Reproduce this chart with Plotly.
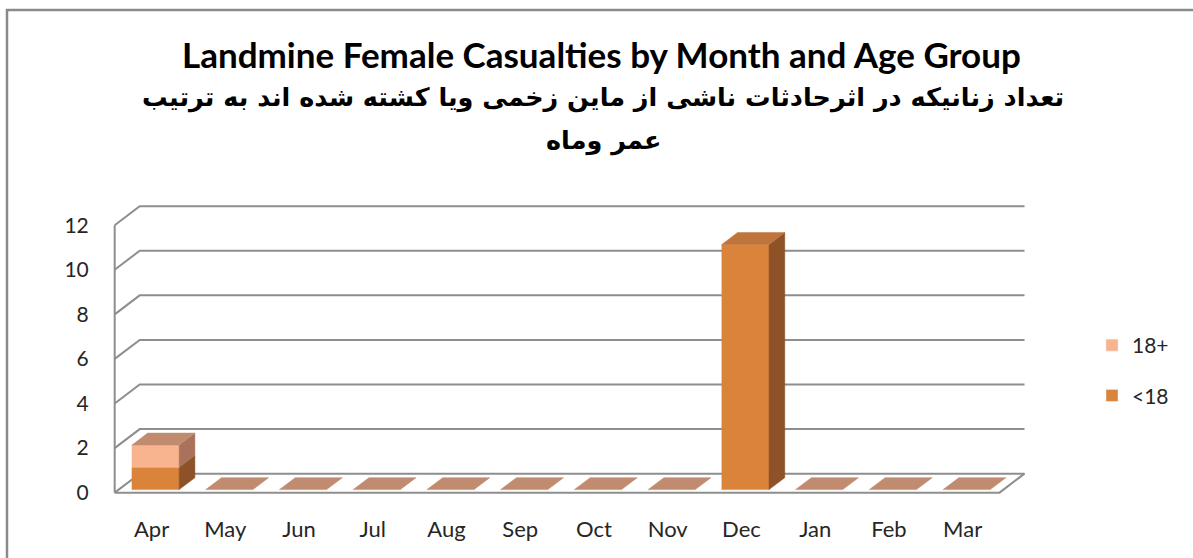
import plotly.graph_objects as go

# ---------------- data ----------------
months = ["Apr", "May", "Jun", "Jul", "Aug", "Sep", "Oct", "Nov", "Dec", "Jan", "Feb", "Mar"]
under18 = [1, 0, 0, 0, 0, 0, 0, 0, 11, 0, 0, 0]
adult18 = [1, 0, 0, 0, 0, 0, 0, 0, 0, 0, 0, 0]
series_names = ["<18", "18+"]
y_ticks = [0, 2, 4, 6, 8, 10, 12]

title_en = "Landmine Female Casualties by Month and Age Group"
title_fa1 = "تعداد زنانیکه در اثرحادثات ناشی از ماین زخمی ویا کشته شده اند به ترتیب"
title_fa2 = "عمر وماه"

# ---------------- style ----------------
W, H = 1193, 558
ML, MR, MT, MB = 111, 164, 204, 62
XR = [-0.55, 11.9]
YR = [-0.15, 12.95]
PW = W - ML - MR
PH = H - MT - MB
PXX = PW / (XR[1] - XR[0])
PXY = PH / (YR[1] - YR[0])
DX = 25 / PXX          # full depth shift in x-units
DY = 19 / PXY          # full depth shift in y-units
HALF_W = 0.32
D1, D2 = 0.16, 0.79

colors = {
    "<18": {"front": "#DA843B", "side": "#8D5227", "top": "#BF743C"},
    "18+": {"front": "#F8B48F", "side": "#A9735B", "top": "#C18B70"},
}
grid_color = "#8E8E8E"
text_color = "#262626"
latin_font = "Lato, Open Sans, sans-serif"


def P(x, y, d):
    return x + DX * d, y + DY * d


def px_x(p):
    return (p - ML) / PW


def px_y(p):
    return (MT + PH - p) / PH


fig = go.Figure()

# ---------------- walls / gridlines ----------------
gx, gy = [], []
x_left, x_right = -0.5, len(months) - 0.5
for t in y_ticks:
    a = P(x_left, t, 0); b = P(x_left, t, 1); c = P(x_right, t, 1)
    gx += [a[0], b[0], c[0], None]
    gy += [a[1], b[1], c[1], None]
a = P(x_left, 0, 0); b = P(x_left, y_ticks[-1], 0)
gx += [a[0], b[0], None]; gy += [a[1], b[1], None]
a = P(x_left, 0, 0); b = P(x_right, 0, 0); c = P(x_right, 0, 1)
gx += [a[0], b[0], c[0], None]; gy += [a[1], b[1], c[1], None]
fig.add_trace(go.Scatter(x=gx, y=gy, mode="lines", line=dict(color=grid_color, width=2),
                         hoverinfo="skip", showlegend=False))

# ---------------- 3D bars ----------------
faces = {(s, f): ([], []) for s in series_names for f in ("front", "side", "top")}


def add_poly(key, pts):
    xs, ys = faces[key]
    for p in pts:
        xs.append(p[0]); ys.append(p[1])
    xs.append(pts[0][0]); ys.append(pts[0][1])
    xs.append(None); ys.append(None)


values = {"<18": under18, "18+": adult18}
for i in range(len(months)):
    base = 0
    top_series = "18+"
    for s in series_names:
        v = values[s][i]
        if v > 0:
            b, t = base, base + v
            xl, xr = i - HALF_W, i + HALF_W
            add_poly((s, "front"), [P(xl, b, D1), P(xr, b, D1), P(xr, t, D1), P(xl, t, D1)])
            add_poly((s, "side"), [P(xr, b, D1), P(xr, b, D2), P(xr, t, D2), P(xr, t, D1)])
            top_series = s
            base = t
    total = base
    if total == 0:
        top_series = "18+"
    xl, xr = i - HALF_W, i + HALF_W
    add_poly((top_series, "top"), [P(xl, total, D1), P(xr, total, D1), P(xr, total, D2), P(xl, total, D2)])

for s in series_names:
    for f in ("front", "side", "top"):
        xs, ys = faces[(s, f)]
        if not xs:
            continue
        c = colors[s][f]
        fig.add_trace(go.Scatter(x=xs, y=ys, mode="lines", fill="toself", fillcolor=c,
                                 line=dict(color=c, width=0.5), hoverinfo="skip", showlegend=False))

# ---------------- legend entries ----------------
for gi, s in enumerate(["18+", "<18"]):
    fig.add_trace(go.Bar(x=[None], y=[None], name=s, marker_color=colors[s]["front"],
                         legendgroup=f"g{gi}", showlegend=True))

# ---------------- layout ----------------
fig.update_layout(
    width=W, height=H,
    margin=dict(l=ML, r=MR, t=MT, b=MB, pad=0),
    paper_bgcolor="white", plot_bgcolor="white",
    showlegend=True,
    legend=dict(x=px_x(1092), y=px_y(325), xanchor="left", yanchor="top",
                traceorder="grouped", tracegroupgap=20,
                font=dict(family=latin_font, size=21, color=text_color),
                bgcolor="rgba(0,0,0,0)"),
    xaxis=dict(range=XR, tickmode="array", tickvals=list(range(len(months))), ticktext=months,
               showgrid=False, zeroline=False, showline=False,
               ticks="outside", ticklen=14, tickcolor="rgba(0,0,0,0)",
               tickfont=dict(family=latin_font, size=22, color=text_color),
               fixedrange=True),
    yaxis=dict(range=YR, tickmode="array", tickvals=y_ticks,
               showgrid=False, zeroline=False, showline=False,
               ticks="outside", ticklen=17, tickcolor="rgba(0,0,0,0)",
               tickfont=dict(family=latin_font, size=21, color=text_color),
               fixedrange=True),
    annotations=[
        dict(text=f"<b>{title_en}</b>", x=px_x(601), y=px_y(54), xref="paper", yref="paper",
             showarrow=False, xanchor="center", yanchor="middle",
             font=dict(family=latin_font, size=35, color="black")),
        dict(text=f"<b>{title_fa1}</b>", x=px_x(603), y=px_y(97), xref="paper", yref="paper",
             showarrow=False, xanchor="center", yanchor="middle",
             font=dict(family="DejaVu Sans, sans-serif", size=25.5, color="black")),
        dict(text=f"<b>{title_fa2}</b>", x=px_x(604), y=px_y(140), xref="paper", yref="paper",
             showarrow=False, xanchor="center", yanchor="middle",
             font=dict(family="DejaVu Sans, sans-serif", size=25.5, color="black")),
    ],
    shapes=[
        dict(type="rect", xref="paper", yref="paper",
             x0=px_x(7), y0=px_y(10), x1=px_x(W + 20), y1=px_y(H + 20),
             line=dict(color="#8A8A8A", width=2.5), fillcolor="rgba(0,0,0,0)", layer="above"),
    ],
)

fig.write_html("out.html", config={"displayModeBar": False},
               post_script="document.body.style.margin='0';document.body.style.overflow='hidden';")
